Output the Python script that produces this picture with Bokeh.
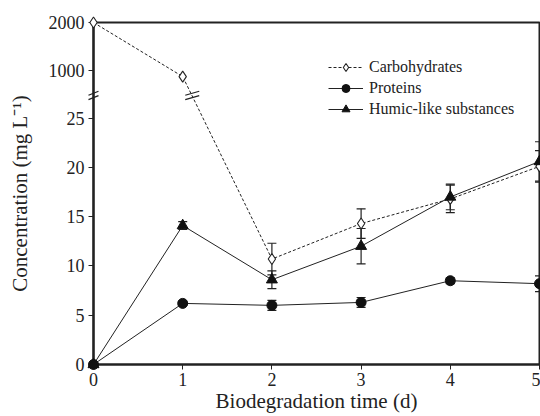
from bokeh.plotting import figure
from bokeh.models import (ColumnDataSource, Whisker, TeeHead, FixedTicker, Legend, LegendItem)
from bokeh.embed import file_html
from bokeh.resources import INLINE

# ---- data ----
days = [0, 1, 2, 3, 4, 5]
carbohydrates = [2000, 880, 10.7, 14.3, 16.8, 20.1]
carbohydrates_err = [0, 0, 1.6, 1.5, 1.4, 1.6]
proteins = [0, 6.2, 6.0, 6.3, 8.5, 8.2]
proteins_err = [0, 0.2, 0.5, 0.5, 0.3, 0.8]
humic = [0, 14.1, 8.6, 12.0, 17.0, 20.6]
humic_err = [0, 0.4, 0.9, 1.8, 1.3, 2.0]

lower_ticks = [0, 5, 10, 15, 20, 25]
upper_ticks = [1000, 2000]
x_ticks = [0, 1, 2, 3, 4, 5]

# broken-axis transform: 0..25 linear, >25 compressed upper segment
UPPER_BASE = 29.8
UPPER_SCALE = 0.0049


def ty(v):
    return v if v <= 25 else UPPER_BASE + (v - 1000) * UPPER_SCALE


BREAK_T = 27.3
FONT = "Liberation Serif"

W, H = 540, 416
ML, MR, MT, MB = 93, 1, 22, 52
y_top = ty(2000)
x_end = 5.0

p = figure(width=W, height=H, output_backend="svg", toolbar_location=None,
           x_range=(0, x_end), y_range=(0, y_top),
           min_border_left=ML, min_border_right=MR, min_border_top=MT, min_border_bottom=MB)
p.grid.visible = False
p.outline_line_color = "#222222"
p.outline_line_width = 2
p.background_fill_color = "white"
p.border_fill_color = "white"

px_x = (W - ML - MR) / x_end
px_y = (H - MT - MB) / y_top


def src(vals, errs):
    t = [ty(v) for v in vals]
    return ColumnDataSource(dict(x=days, y=t,
                                 lo=[ty(v - e) if e > 0 else ty(v) for v, e in zip(vals, errs)],
                                 hi=[ty(v + e) if e > 0 else ty(v) for v, e in zip(vals, errs)]))


s_c = src(carbohydrates, carbohydrates_err)
s_p = src(proteins, proteins_err)
s_h = src(humic, humic_err)

# error bars
for s, errs in [(s_c, carbohydrates_err), (s_p, proteins_err), (s_h, humic_err)]:
    idx = [i for i, e in enumerate(errs) if e > 0]
    sub = ColumnDataSource(dict(x=[s.data["x"][i] for i in idx],
                                lo=[s.data["lo"][i] for i in idx],
                                hi=[s.data["hi"][i] for i in idx]))
    w = Whisker(source=sub, base="x", lower="lo", upper="hi", dimension="height",
                line_color="#222222", line_width=1.2,
                upper_head=TeeHead(size=9, line_color="#222222", line_width=1.2),
                lower_head=TeeHead(size=9, line_color="#222222", line_width=1.2))
    p.add_layout(w)

lc = p.line("x", "y", source=s_c, line_color="#222222", line_width=1, line_dash="3 2")
mc = p.scatter("x", "y", source=s_c, marker="diamond", size=11, fill_color="white",
               line_color="#222222", line_width=1.1, level="overlay")
lp = p.line("x", "y", source=s_p, line_color="#222222", line_width=1)
mp = p.scatter("x", "y", source=s_p, marker="circle", size=10, fill_color="#111111",
               line_color="#111111", level="overlay")
lh = p.line("x", "y", source=s_h, line_color="#222222", line_width=1)
mh = p.scatter("x", "y", source=s_h, marker="triangle", size=11, fill_color="#111111",
               line_color="#111111", level="overlay")

# break marks (on the axis and on the carbohydrate line): short "//" pairs
bx0, by0, bx1, by1 = [], [], [], []
for xc, half_px in [(0.0, 5), (1.107, 7)]:
    for off_px in (-2.2, 2.2):
        bx0.append(xc - half_px / px_x)
        by0.append(BREAK_T + (off_px - 2) / px_y)
        bx1.append(xc + half_px / px_x)
        by1.append(BREAK_T + (off_px + 2) / px_y)
p.segment(bx0, by0, bx1, by1, line_color="#222222", line_width=1.2, level="overlay")

# axes
p.xaxis.ticker = FixedTicker(ticks=x_ticks)
p.yaxis.ticker = FixedTicker(ticks=[float(t) for t in lower_ticks] + [ty(v) for v in upper_ticks])
p.yaxis.major_label_overrides = {ty(v): str(v) for v in upper_ticks}
for ax in (p.xaxis[0], p.yaxis[0]):
    ax.axis_line_width = 2.2
    ax.axis_line_color = "#222222"
    ax.major_tick_line_color = "#222222"
    ax.major_tick_in = 0
    ax.major_tick_out = 5
    ax.minor_tick_line_color = None
    ax.major_label_text_font = FONT
    ax.major_label_text_font_size = "18px"
    ax.major_label_text_color = "#222222"
    ax.axis_label_text_font = FONT
    ax.axis_label_text_font_size = "21px"
    ax.axis_label_text_font_style = "normal"
    ax.axis_label_text_color = "#222222"
p.xaxis.axis_label = "Biodegradation time (d)"
p.yaxis.axis_label = "Concentration (mg L\u207b\u00b9)"
p.xaxis.major_label_standoff = 3
p.xaxis.axis_label_standoff = 0
p.yaxis.major_label_standoff = 4
p.yaxis.axis_label_standoff = 14

legend = Legend(items=[
    LegendItem(label="Carbohydrates", renderers=[lc, mc]),
    LegendItem(label="Proteins", renderers=[lp, mp]),
    LegendItem(label="Humic-like substances", renderers=[lh, mh]),
], location=(235, 245), border_line_alpha=0, background_fill_alpha=0,
    padding=0, margin=0, spacing=1, glyph_width=35, glyph_height=20, label_height=20,
    label_standoff=6, label_text_font=FONT, label_text_font_size="16px",
    label_text_color="#222222")
p.add_layout(legend, "center")

open("out.html", "w").write(file_html(p, INLINE))
